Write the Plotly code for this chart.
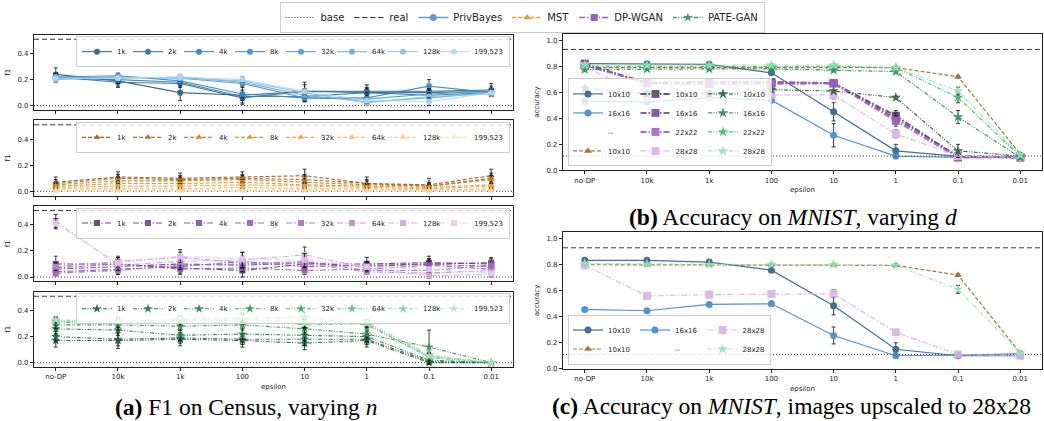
import plotly.graph_objects as go

# ---------------- data ----------------
EPSILON = ["no-DP", "10k", "1k", "100", "10", "1", "0.1", "0.01"]
N_LABELS = ["1k", "2k", "4k", "8k", "32k", "64k", "128k", "199,523"]

BASE_F1 = 0.0
REAL_F1 = 0.51
BASE_ACC = 0.11
REAL_ACC = 0.93

PB_CENSUS = [
    [0.24, 0.19, 0.10, 0.08, 0.11, 0.11, 0.11, 0.12],
    [0.22, 0.18, 0.17, 0.06, 0.11, 0.10, 0.10, 0.11],
    [0.21, 0.20, 0.18, 0.07, 0.07, 0.10, 0.08, 0.10],
    [0.22, 0.23, 0.19, 0.09, 0.06, 0.06, 0.15, 0.10],
    [0.21, 0.22, 0.21, 0.17, 0.06, 0.05, 0.09, 0.11],
    [0.22, 0.21, 0.22, 0.18, 0.08, 0.03, 0.06, 0.10],
    [0.20, 0.22, 0.21, 0.19, 0.10, 0.02, 0.07, 0.09],
    [0.21, 0.21, 0.22, 0.20, 0.11, 0.04, 0.03, 0.10],
]
PB_CENSUS_ERR = [
    [0.05, 0.04, 0.06, 0.07, 0.07, 0.05, 0.04, 0.05],
    [0.03, 0.04, 0.03, 0.04, 0.05, 0.04, 0.03, 0.04],
    [0.03, 0.03, 0.03, 0.03, 0.04, 0.03, 0.05, 0.03],
    [0.02, 0.02, 0.02, 0.03, 0.03, 0.04, 0.05, 0.02],
    [0.02, 0.02, 0.02, 0.03, 0.02, 0.03, 0.04, 0.02],
    [0.01, 0.02, 0.02, 0.02, 0.02, 0.02, 0.03, 0.02],
    [0.01, 0.01, 0.01, 0.02, 0.02, 0.02, 0.03, 0.02],
    [0.01, 0.01, 0.01, 0.02, 0.02, 0.02, 0.03, 0.02],
]
MST_CENSUS = [
    [0.07, 0.11, 0.10, 0.11, 0.12, 0.06, 0.05, 0.12],
    [0.06, 0.10, 0.09, 0.10, 0.09, 0.06, 0.04, 0.10],
    [0.05, 0.08, 0.08, 0.09, 0.07, 0.05, 0.04, 0.09],
    [0.04, 0.06, 0.06, 0.07, 0.05, 0.04, 0.03, 0.05],
    [0.03, 0.04, 0.04, 0.05, 0.04, 0.03, 0.02, 0.04],
    [0.02, 0.02, 0.02, 0.03, 0.02, 0.02, 0.01, 0.02],
    [0.01, 0.01, 0.01, 0.01, 0.01, 0.01, 0.01, 0.01],
    [0.00, 0.00, 0.00, 0.00, 0.00, 0.00, 0.00, 0.00],
]
MST_CENSUS_ERR = [
    [0.04, 0.04, 0.04, 0.04, 0.05, 0.05, 0.05, 0.05],
    [0.03, 0.03, 0.03, 0.03, 0.04, 0.03, 0.03, 0.04],
    [0.02, 0.03, 0.03, 0.03, 0.03, 0.03, 0.02, 0.03],
    [0.02, 0.02, 0.02, 0.02, 0.02, 0.02, 0.02, 0.02],
    [0.01, 0.02, 0.02, 0.02, 0.02, 0.02, 0.01, 0.02],
    [0.01, 0.01, 0.01, 0.01, 0.01, 0.01, 0.01, 0.01],
    [0.01, 0.01, 0.01, 0.01, 0.01, 0.01, 0.01, 0.01],
    [0.00, 0.00, 0.00, 0.00, 0.00, 0.00, 0.00, 0.00],
]
WGAN_CENSUS = [
    [0.10, 0.10, 0.07, 0.05, 0.10, 0.10, 0.11, 0.10],
    [0.06, 0.08, 0.10, 0.09, 0.11, 0.08, 0.10, 0.11],
    [0.04, 0.06, 0.08, 0.12, 0.08, 0.09, 0.10, 0.08],
    [0.07, 0.10, 0.06, 0.07, 0.05, 0.06, 0.09, 0.06],
    [0.03, 0.05, 0.09, 0.10, 0.12, 0.05, 0.05, 0.09],
    [0.08, 0.12, 0.15, 0.11, 0.10, 0.04, 0.03, 0.05],
    [0.43, 0.09, 0.12, 0.13, 0.17, 0.07, 0.01, 0.02],
    [0.41, 0.11, 0.16, 0.14, 0.13, 0.08, 0.06, 0.03],
]
WGAN_CENSUS_ERR = [
    [0.06, 0.05, 0.05, 0.05, 0.05, 0.05, 0.05, 0.04],
    [0.04, 0.04, 0.04, 0.04, 0.04, 0.04, 0.04, 0.04],
    [0.03, 0.04, 0.03, 0.04, 0.03, 0.03, 0.04, 0.03],
    [0.03, 0.03, 0.03, 0.03, 0.03, 0.03, 0.03, 0.03],
    [0.02, 0.03, 0.03, 0.03, 0.03, 0.02, 0.02, 0.02],
    [0.03, 0.04, 0.04, 0.04, 0.03, 0.02, 0.02, 0.02],
    [0.05, 0.04, 0.05, 0.06, 0.06, 0.03, 0.02, 0.02],
    [0.04, 0.04, 0.05, 0.05, 0.05, 0.03, 0.02, 0.02],
]
PATE_CENSUS = [
    [0.17, 0.17, 0.18, 0.17, 0.15, 0.17, 0.00, 0.00],
    [0.20, 0.18, 0.19, 0.18, 0.18, 0.18, 0.01, 0.00],
    [0.26, 0.25, 0.21, 0.22, 0.21, 0.20, 0.02, 0.00],
    [0.29, 0.29, 0.28, 0.29, 0.26, 0.22, 0.12, 0.00],
    [0.32, 0.32, 0.33, 0.34, 0.35, 0.29, 0.05, 0.00],
    [0.31, 0.30, 0.32, 0.33, 0.29, 0.30, 0.04, 0.00],
    [0.32, 0.31, 0.33, 0.34, 0.30, 0.31, 0.06, 0.00],
    [0.33, 0.32, 0.34, 0.35, 0.30, 0.30, 0.05, 0.00],
]
PATE_CENSUS_ERR = [
    [0.05, 0.06, 0.05, 0.05, 0.05, 0.05, 0.01, 0.00],
    [0.04, 0.05, 0.04, 0.04, 0.05, 0.04, 0.01, 0.00],
    [0.04, 0.04, 0.04, 0.04, 0.04, 0.04, 0.02, 0.00],
    [0.03, 0.04, 0.03, 0.04, 0.04, 0.03, 0.13, 0.00],
    [0.03, 0.03, 0.03, 0.04, 0.04, 0.03, 0.03, 0.00],
    [0.02, 0.03, 0.03, 0.03, 0.03, 0.03, 0.02, 0.00],
    [0.02, 0.02, 0.02, 0.03, 0.03, 0.02, 0.02, 0.00],
    [0.02, 0.02, 0.02, 0.03, 0.03, 0.02, 0.02, 0.00],
]

# MNIST, varying d
PB_D_LABELS = ["10x10", "16x16"]
PB_MNIST_D = [
    [0.82, 0.82, 0.815, 0.75, 0.45, 0.15, 0.107, 0.095],
    [0.53, 0.527, 0.56, 0.54, 0.27, 0.11, 0.10, 0.107],
]
PB_MNIST_D_ERR = [
    [0.01, 0.01, 0.01, 0.01, 0.07, 0.05, 0.02, 0.01],
    [0.01, 0.01, 0.01, 0.02, 0.09, 0.02, 0.01, 0.01],
]
MST_D_LABELS = ["10x10"]
MST_MNIST_D = [[0.79, 0.79, 0.79, 0.79, 0.79, 0.79, 0.72, 0.125]]
MST_MNIST_D_ERR = [[0.01, 0.01, 0.01, 0.01, 0.01, 0.01, 0.01, 0.01]]
WGAN_D_LABELS = ["10x10", "16x16", "22x22", "28x28"]
WGAN_MNIST_D = [
    [0.82, 0.67, 0.67, 0.67, 0.67, 0.42, 0.10, 0.10],
    [0.81, 0.675, 0.68, 0.68, 0.67, 0.40, 0.11, 0.10],
    [0.81, 0.67, 0.665, 0.665, 0.67, 0.38, 0.10, 0.105],
    [0.80, 0.56, 0.57, 0.58, 0.58, 0.28, 0.11, 0.10],
]
WGAN_MNIST_D_ERR = [
    [0.01, 0.02, 0.02, 0.02, 0.02, 0.04, 0.02, 0.02],
    [0.01, 0.02, 0.02, 0.02, 0.02, 0.04, 0.02, 0.02],
    [0.01, 0.02, 0.02, 0.02, 0.02, 0.04, 0.02, 0.02],
    [0.01, 0.02, 0.02, 0.02, 0.03, 0.03, 0.02, 0.02],
]
PATE_D_LABELS = ["10x10", "16x16", "22x22", "28x28"]
PATE_MNIST_D = [
    [0.63, 0.59, 0.59, 0.62, 0.61, 0.56, 0.15, 0.11],
    [0.775, 0.78, 0.78, 0.78, 0.77, 0.76, 0.41, 0.10],
    [0.80, 0.80, 0.80, 0.80, 0.80, 0.79, 0.56, 0.11],
    [0.81, 0.81, 0.81, 0.81, 0.81, 0.79, 0.61, 0.12],
]
PATE_MNIST_D_ERR = [
    [0.02, 0.02, 0.02, 0.01, 0.01, 0.01, 0.05, 0.01],
    [0.01, 0.01, 0.01, 0.01, 0.01, 0.01, 0.05, 0.01],
    [0.01, 0.01, 0.01, 0.01, 0.01, 0.01, 0.04, 0.01],
    [0.01, 0.01, 0.01, 0.01, 0.01, 0.01, 0.03, 0.01],
]

# MNIST, images upscaled to 28x28
PB_UP_LABELS = ["10x10", "16x16"]
PB_MNIST_UP = [
    [0.834, 0.834, 0.82, 0.758, 0.485, 0.15, 0.10, 0.10],
    [0.456, 0.446, 0.495, 0.50, 0.256, 0.10, 0.105, 0.115],
]
PB_MNIST_UP_ERR = [
    [0.01, 0.01, 0.01, 0.01, 0.07, 0.05, 0.02, 0.01],
    [0.01, 0.01, 0.01, 0.02, 0.065, 0.02, 0.01, 0.01],
]
MST_UP_LABELS = ["10x10"]
MST_MNIST_UP = [[0.80, 0.80, 0.80, 0.80, 0.80, 0.795, 0.72, 0.12]]
MST_MNIST_UP_ERR = [[0.01, 0.01, 0.01, 0.01, 0.01, 0.01, 0.01, 0.01]]
WGAN_UP_LABELS = ["28x28"]
WGAN_MNIST_UP = [[0.795, 0.56, 0.57, 0.575, 0.577, 0.28, 0.11, 0.10]]
WGAN_MNIST_UP_ERR = [[0.01, 0.01, 0.015, 0.02, 0.03, 0.02, 0.02, 0.02]]
PATE_UP_LABELS = ["28x28"]
PATE_MNIST_UP = [[0.81, 0.805, 0.80, 0.80, 0.80, 0.795, 0.61, 0.12]]
PATE_MNIST_UP_ERR = [[0.01, 0.01, 0.01, 0.01, 0.01, 0.01, 0.03, 0.01]]

# ---------------- styles ----------------
BLUES = ['#2b5b7e', '#2f6a96', '#3379ad', '#3a88c4', '#4b98d3', '#66aade', '#88bfe8', '#b3d7f2']
ORANGES = ['#8c5a1e', '#a8691f', '#c47c22', '#dc8f2a', '#eca43f', '#f3b863', '#f7cc8c', '#fae0b8']
PURPLES = ['#5e3870', '#71418a', '#844ca2', '#9758b5', '#a96ec4', '#bc89d2', '#d0a7df', '#e4c9ec']
GREENS = ['#1f5a3a', '#226b44', '#267d4e', '#2e9059', '#3ea56a', '#5cba84', '#86cfa4', '#b5e3c7']

MAIN_COLORS = {'PrivBayes': '#5a9bd4', 'MST': '#e3a037', 'DP-WGAN': '#9b5fb5', 'PATE-GAN': '#3b9a5f'}
SYMBOLS = {'PrivBayes': 'circle', 'MST': 'triangle-up', 'DP-WGAN': 'square', 'PATE-GAN': 'star'}
DASHES = {'PrivBayes': 'solid', 'MST': '4px,2px', 'DP-WGAN': '6px,2px,1.5px,2px',
          'PATE-GAN': '4px,1.5px,1px,1.5px,1px,1.5px'}

PB_D_COLORS = ['#2e6088', '#3f88c5']
MST_D_COLORS = ['#9a6a2c']
WGAN_D_COLORS = ['#5d4a68', '#7b4a93', '#a461c4', '#d9b3e6']
PATE_D_COLORS = ['#2b5e40', '#2e8a55', '#3dba70', '#93e3bb']

W, H = 1044, 421
FONT = 'DejaVu Sans'
SERIF = 'Liberation Serif'


def fx(p):
    return p / W


def fy(p):
    return 1 - p / H


LEFT = (34, 513)
RIGHT = (563, 1042)
A_ROWS = [(35, 111), (121.5, 197.5), (208, 284), (294.5, 370.5)]
B_ROW = (34, 172)
C_ROW = (234.3, 372.3)

fig = go.Figure()


def add_series(ax, y, err, name, color, method, size, width, legend,
               legendgroup=None, opacity=0.9, legendwidth=None):
    fig.add_trace(go.Scatter(
        x=EPSILON, y=y, name=name, mode='lines+markers',
        xaxis='x' + ax, yaxis='y' + ax,
        line=dict(color=color, width=width, dash=DASHES[method]),
        marker=dict(color=color, symbol=SYMBOLS[method], size=size, line=dict(width=0)),
        error_y=dict(type='data', array=err, color='#111', thickness=0.9, width=2),
        opacity=opacity, legend=legend, legendgroup=legendgroup, showlegend=True,
        legendwidth=legendwidth))


def add_blank(ax, legend, legendgroup):
    fig.add_trace(go.Scatter(
        x=[None], y=[None], name='--', mode='lines', xaxis='x' + ax, yaxis='y' + ax,
        line=dict(color='rgba(0,0,0,0)', width=0), legend=legend,
        legendgroup=legendgroup, showlegend=True))


# main legend entries
fig.add_trace(go.Scatter(x=[None], y=[None], name='base', mode='lines', xaxis='x', yaxis='y',
                         line=dict(color='#222', width=1.2, dash='1px,2px'), legend='legend'))
fig.add_trace(go.Scatter(x=[None], y=[None], name='real', mode='lines', xaxis='x', yaxis='y',
                         line=dict(color='#222', width=1.2, dash='5px,3px'), legend='legend'))
for m in ['PrivBayes', 'MST', 'DP-WGAN', 'PATE-GAN']:
    fig.add_trace(go.Scatter(x=[None], y=[None], name=m, mode='lines+markers', xaxis='x', yaxis='y',
                             line=dict(color=MAIN_COLORS[m], width=1.5, dash=DASHES[m]),
                             marker=dict(color=MAIN_COLORS[m], symbol=SYMBOLS[m], size=7),
                             legend='legend'))

# panel (a)
census = [
    ('PrivBayes', PB_CENSUS, PB_CENSUS_ERR, BLUES),
    ('MST', MST_CENSUS, MST_CENSUS_ERR, ORANGES),
    ('DP-WGAN', WGAN_CENSUS, WGAN_CENSUS_ERR, PURPLES),
    ('PATE-GAN', PATE_CENSUS, PATE_CENSUS_ERR, GREENS),
]
for i, (m, vals, errs, cols) in enumerate(census):
    ax = str(i + 1)
    for k, lab in enumerate(N_LABELS):
        add_series(ax, vals[k], errs[k], lab, cols[k], m,
                   size=6 if m != 'PATE-GAN' else 7, width=1.1, legend='legend' + str(i + 2),
                   legendwidth=30 if k == len(N_LABELS) - 1 else None)

# panel (b)
for k, lab in enumerate(PB_D_LABELS):
    add_series('5', PB_MNIST_D[k], PB_MNIST_D_ERR[k], lab, PB_D_COLORS[k], 'PrivBayes', 7, 1.2, 'legend6', 'g1')
add_blank('5', 'legend6', 'g1')
for k, lab in enumerate(MST_D_LABELS):
    add_series('5', MST_MNIST_D[k], MST_MNIST_D_ERR[k], lab, MST_D_COLORS[k], 'MST', 7, 1.2, 'legend6', 'g1')
for k, lab in enumerate(WGAN_D_LABELS):
    add_series('5', WGAN_MNIST_D[k], WGAN_MNIST_D_ERR[k], lab, WGAN_D_COLORS[k], 'DP-WGAN', 8,
               2.0 if k < 3 else 1.2, 'legend6', 'g2')
for k, lab in enumerate(PATE_D_LABELS):
    add_series('5', PATE_MNIST_D[k], PATE_MNIST_D_ERR[k], lab, PATE_D_COLORS[k], 'PATE-GAN', 8, 1.2, 'legend6', 'g3')

# panel (c)
add_series('6', PB_MNIST_UP[0], PB_MNIST_UP_ERR[0], PB_UP_LABELS[0], PB_D_COLORS[0], 'PrivBayes', 7, 1.2, 'legend7', 'h1')
add_series('6', MST_MNIST_UP[0], MST_MNIST_UP_ERR[0], MST_UP_LABELS[0], MST_D_COLORS[0], 'MST', 7, 1.2, 'legend7', 'h1')
add_series('6', PB_MNIST_UP[1], PB_MNIST_UP_ERR[1], PB_UP_LABELS[1], PB_D_COLORS[1], 'PrivBayes', 7, 1.2, 'legend7', 'h2')
add_blank('6', 'legend7', 'h2')
add_series('6', WGAN_MNIST_UP[0], WGAN_MNIST_UP_ERR[0], WGAN_UP_LABELS[0], WGAN_D_COLORS[3], 'DP-WGAN', 8, 1.2, 'legend7', 'h3')
add_series('6', PATE_MNIST_UP[0], PATE_MNIST_UP_ERR[0], PATE_UP_LABELS[0], PATE_D_COLORS[3], 'PATE-GAN', 8, 1.2, 'legend7', 'h3')

# ---------------- axes ----------------
tickfont = dict(family=FONT, size=7, color='#222')
titlefont = dict(family=FONT, size=7, color='#222')


def xaxis(dom, show_labels):
    return dict(domain=[fx(dom[0]), fx(dom[1])], type='category', categoryorder='array',
                categoryarray=EPSILON, range=[-0.35, 7.35], showline=True, mirror=True,
                linecolor='#222', linewidth=1.1, ticks='outside', ticklen=3, tickwidth=0.8,
                tickcolor='#222', showticklabels=show_labels, tickfont=tickfont,
                title=dict(text='epsilon' if show_labels else '', font=titlefont, standoff=3),
                showgrid=False, zeroline=False, fixedrange=True)


def yaxis(row, rng, tickvals, title):
    return dict(domain=[fy(row[1]), fy(row[0])], range=rng, tickvals=tickvals, tickformat='.1f',
                showline=True, mirror=True, linecolor='#222', linewidth=1.1, ticks='outside',
                ticklen=3, tickwidth=0.8, tickcolor='#222', tickfont=tickfont,
                title=dict(text=title, font=titlefont, standoff=5),
                showgrid=False, zeroline=False, fixedrange=True)


layout = dict(width=W, height=H, margin=dict(l=0, r=0, t=0, b=0),
              paper_bgcolor='white', plot_bgcolor='white', font=dict(family=FONT))
F1_RANGE = [-0.033, 0.545]
ACC_RANGE = [0, 1.051]
for i in range(4):
    key = '' if i == 0 else str(i + 1)
    layout['xaxis' + key] = xaxis(LEFT, i == 3)
    layout['yaxis' + key] = yaxis(A_ROWS[i], F1_RANGE, [0, 0.2, 0.4], 'f1')
    layout['xaxis' + key]['anchor'] = 'y' + key
    layout['yaxis' + key]['anchor'] = 'x' + key
for key, row in (('5', B_ROW), ('6', C_ROW)):
    layout['xaxis' + key] = xaxis(RIGHT, True)
    layout['xaxis' + key]['anchor'] = 'y' + key
    layout['yaxis' + key] = yaxis(row, ACC_RANGE, [0, 0.2, 0.4, 0.6, 0.8, 1.0], 'accuracy')
    layout['yaxis' + key]['anchor'] = 'x' + key

# legends
layout['legend'] = dict(orientation='h', x=0.5, xanchor='center', y=fy(2), yanchor='top',
                        font=dict(family=FONT, size=10, color='#222'), bgcolor='white',
                        bordercolor='#cccccc', borderwidth=1)
for i in range(4):
    layout['legend' + str(i + 2)] = dict(
        orientation='h', x=fx(510), xanchor='right', y=fy(A_ROWS[i][0] + 1.5), yanchor='top',
        font=dict(family=FONT, size=7, color='#222'), bgcolor='rgba(255,255,255,0.8)',
        bordercolor='#cccccc', borderwidth=1, entrywidth=6, itemwidth=30)
layout['legend6'] = dict(orientation='h', traceorder='grouped', x=fx(568), xanchor='left',
                         y=fy(168), yanchor='bottom', tracegroupgap=0,
                         font=dict(family=FONT, size=7, color='#222'),
                         bgcolor='rgba(255,255,255,0.8)', bordercolor='#cccccc', borderwidth=1)
layout['legend7'] = dict(orientation='h', traceorder='grouped', x=fx(568), xanchor='left',
                         y=fy(368), yanchor='bottom', tracegroupgap=0,
                         font=dict(family=FONT, size=7, color='#222'),
                         bgcolor='rgba(255,255,255,0.8)', bordercolor='#cccccc', borderwidth=1)

fig.update_layout(**layout)

# base / real reference lines
refs = [(str(i + 1), BASE_F1, REAL_F1) for i in range(4)] + [('5', BASE_ACC, REAL_ACC), ('6', BASE_ACC, REAL_ACC)]
for ax, base, real in refs:
    xr = 'x domain' if ax == '1' else 'x' + ax + ' domain'
    yr = 'y' if ax == '1' else 'y' + ax
    fig.add_shape(type='line', xref=xr, yref=yr, x0=0, x1=1, y0=base, y1=base,
                  line=dict(color='#333', width=1, dash='1px,2px'), layer='below')
    fig.add_shape(type='line', xref=xr, yref=yr, x0=0, x1=1, y0=real, y1=real,
                  line=dict(color='#333', width=1, dash='5px,3px'), layer='below')

# captions
caps = [
    ('<b>(a)</b> F1 on Census, varying <i>n</i>', 246, 411),
    ('<b>(b)</b> Accuracy on <i>MNIST</i>, varying <i>d</i>', 793, 219),
    ('<b>(c)</b> Accuracy on <i>MNIST</i>, images upscaled to 28x28', 791, 410),
]
for text, cx, cy in caps:
    fig.add_annotation(text=text, x=fx(cx), y=fy(cy), xref='paper', yref='paper',
                       xanchor='center', yanchor='middle', showarrow=False,
                       font=dict(family=SERIF, size=23.5, color='black'))

fig.write_html('out.html')
